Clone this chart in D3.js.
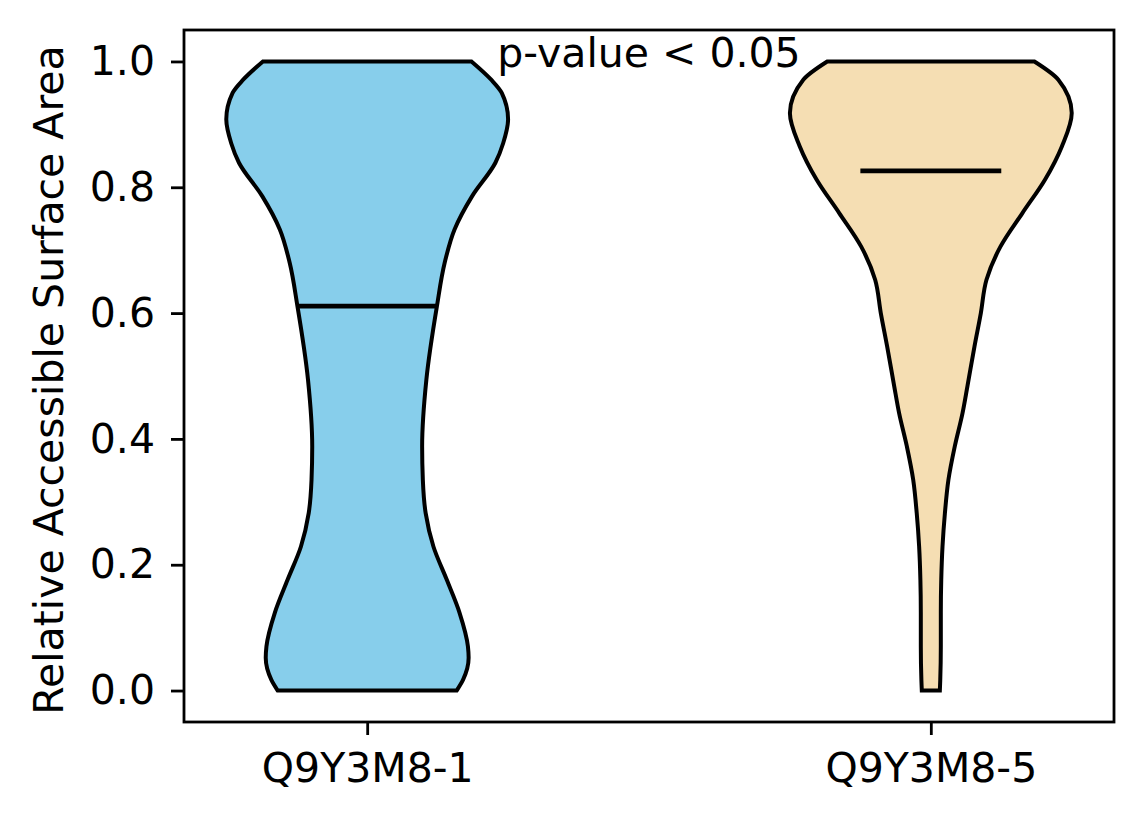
<!DOCTYPE html>
<!-- violin plot of relative accessible surface area for two isoforms -->
<html>
<head>
<meta charset="utf-8">
<style>
  body { margin: 0; background: white; }
  text { font-family: "DejaVu Sans", sans-serif; }
</style>
</head>
<body>
<div id="graph_div"></div>

<script src="https://d3js.org/d3.v7.min.js"></script>

<script>

// data
let categories = ["Q9Y3M8-1", "Q9Y3M8-5"];
let colors = ["#87CEEB", "#F5DEB3"];
let medians = [0.611, 0.826];

// density profile (value, relative half-width) for each violin
let rsa_1 = [0.0, 0.017, 0.052, 0.070, 0.124, 0.176, 0.229, 0.282, 0.335, 0.388, 0.494, 0.611, 0.680, 0.733, 0.786, 0.839, 0.870, 0.908, 0.950, 0.971, 1.0];
let width_1 = [0.635, 0.68, 0.72, 0.715, 0.655, 0.565, 0.47, 0.415, 0.395, 0.39, 0.42, 0.495, 0.55, 0.62, 0.745, 0.91, 0.965, 1.0, 0.955, 0.88, 0.74];

let rsa_5 = [0.0, 0.017, 0.070, 0.124, 0.176, 0.229, 0.282, 0.335, 0.388, 0.441, 0.484, 0.547, 0.600, 0.653, 0.706, 0.759, 0.812, 0.865, 0.918, 0.971, 1.0];
let width_5 = [0.064, 0.067, 0.071, 0.071, 0.074, 0.083, 0.10, 0.125, 0.17, 0.225, 0.26, 0.31, 0.355, 0.395, 0.495, 0.65, 0.81, 0.93, 1.0, 0.905, 0.735];

let y_ticks = [0.0, 0.2, 0.4, 0.6, 0.8, 1.0];

let violins = [
  {name: categories[0], pos: 1, ys: rsa_1, ws: width_1, median: medians[0], color: colors[0]},
  {name: categories[1], pos: 2, ys: rsa_5, ws: width_5, median: medians[1], color: colors[1]}
];

let margin = {top: 30, right: 30, bottom: 102, left: 184},
    container_width = 1144,
    container_height = 824,
    graph_width = container_width - margin.left - margin.right,
    graph_height = container_height - margin.top - margin.bottom;

let graph_obj = d3.select("#graph_div")
  .append("svg")
    .attr("width", container_width)
    .attr("height", container_height);

let graph_elems = graph_obj
  .append("g")
    .attr("transform", "translate(" + margin.left + "," + margin.top + ")");

// scales (matplotlib style 5% margins)
let x = d3.scaleLinear()
  .domain([0.675, 2.325])
  .range([0, graph_width]);

let y = d3.scaleLinear()
  .domain([-0.05, 1.05])
  .range([graph_height, 0]);

let half = 0.25;   // violin half width in x units

// violins
let area = d3.area()
  .y(function(d){ return y(d.v) })
  .x0(function(d){ return x(d.pos - half * d.w) })
  .x1(function(d){ return x(d.pos + half * d.w) })
  .curve(d3.curveMonotoneY);

violins.forEach(function(vl){
  let pts = vl.ys.map(function(v, i){ return {v: v, w: vl.ws[i], pos: vl.pos} });
  graph_elems.append("path")
    .attr("d", area(pts))
    .attr("fill", vl.color)
    .attr("stroke", "black")
    .attr("stroke-width", 4)
    .attr("stroke-linejoin", "miter");
  graph_elems.append("line")
    .attr("x1", x(vl.pos - half / 2))
    .attr("x2", x(vl.pos + half / 2))
    .attr("y1", y(vl.median))
    .attr("y2", y(vl.median))
    .attr("stroke", "black")
    .attr("stroke-width", 4.6);
});

// axes
let y_axis = graph_elems.append("g")
  .call(d3.axisLeft(y).tickValues(y_ticks).tickFormat(d3.format(".1f")).tickSize(13).tickPadding(16));

let x_axis = graph_elems.append("g")
  .attr("transform", "translate(0," + graph_height + ")")
  .call(d3.axisBottom(x).tickValues([1, 2]).tickFormat(function(d){ return categories[d - 1] }).tickSize(13).tickPadding(18));

[x_axis, y_axis].forEach(function(a){
  a.select(".domain").remove();
  a.selectAll(".tick line").attr("stroke", "black").attr("stroke-width", 2.8);
  a.selectAll(".tick text").attr("fill", "black").style("font-size", "41px").style("font-family", "DejaVu Sans");
});

// frame
graph_elems.append("rect")
  .attr("width", graph_width)
  .attr("height", graph_height)
  .attr("fill", "none")
  .attr("stroke", "black")
  .attr("stroke-width", 2.8);

// annotation
graph_elems.append("text")
  .attr("x", x(1.5))
  .attr("y", y(1.0) + 6)
  .attr("text-anchor", "middle")
  .style("font-size", "41px")
  .text("p-value < 0.05");

// y label
graph_obj.append("text")
  .attr("transform", "translate(63," + (margin.top + graph_height / 2 + 4) + ") rotate(-90)")
  .attr("text-anchor", "middle")
  .style("font-size", "41px")
  .text("Relative Accessible Surface Area");

</script>
</body>
</html>
